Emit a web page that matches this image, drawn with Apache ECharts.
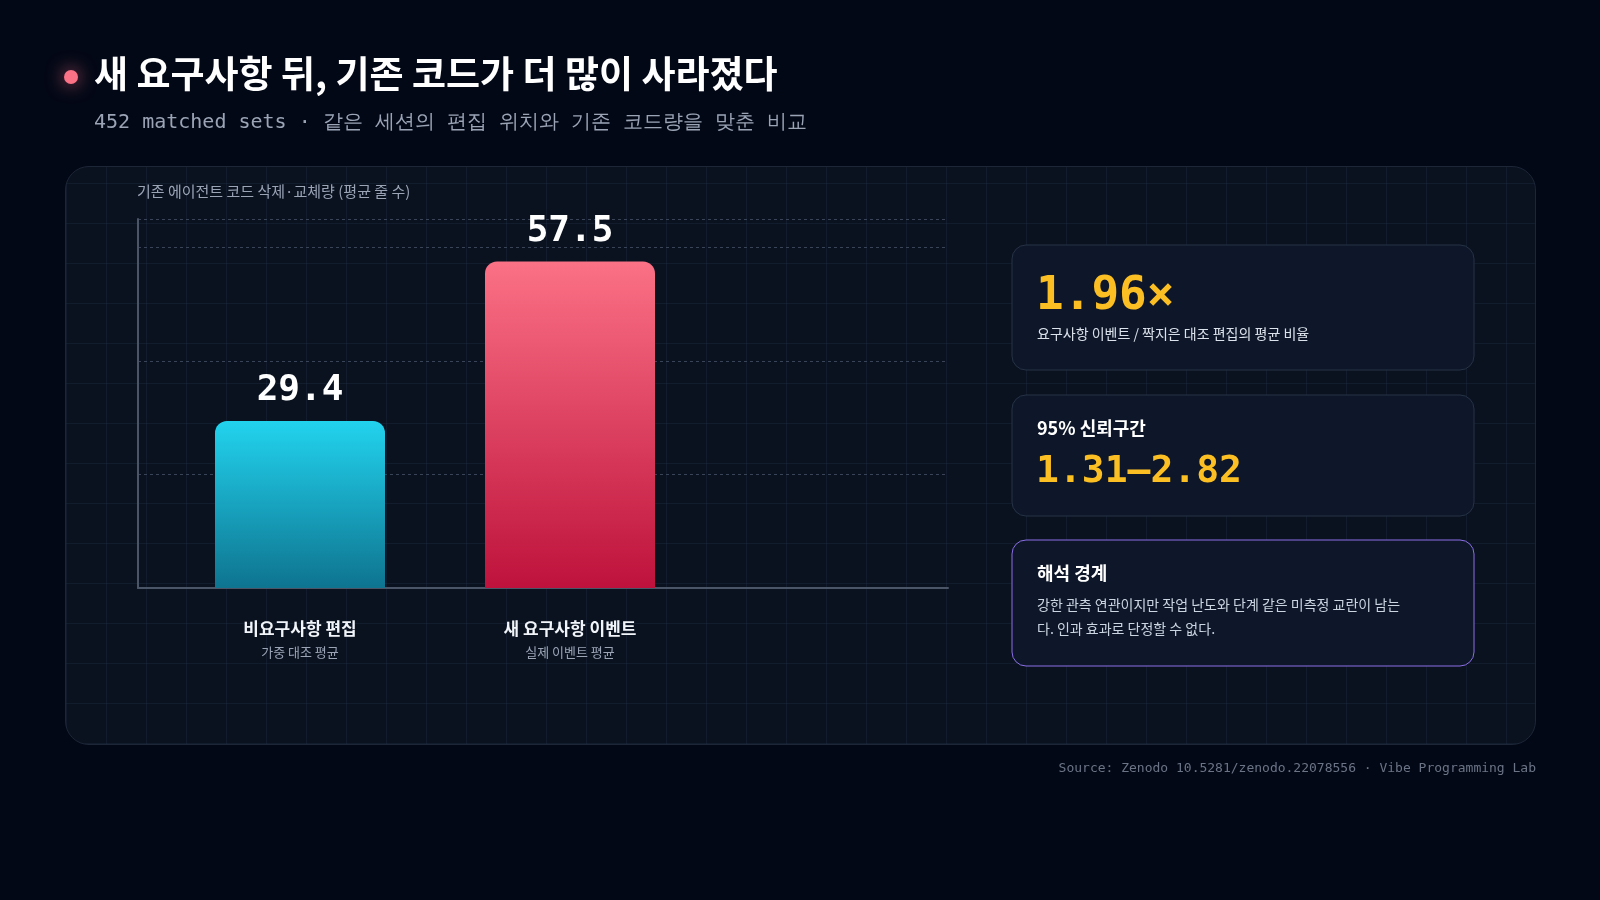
<!DOCTYPE html>
<html>
<head>
<meta charset="utf-8">
<title>새 요구사항 뒤, 기존 코드가 더 많이 사라졌다</title>
<script src="https://cdn.jsdelivr.net/npm/echarts@6/dist/echarts.min.js"></script>
<style>
  html, body { margin: 0; padding: 0; background: #030816; }
  #panel {
    position: absolute; left: 65px; top: 166px; width: 1471px; height: 579px;
    border-radius: 24px; border: 1px solid #1c2636; box-sizing: border-box;
    background-color: #0a1220;
    background-image:
      linear-gradient(rgba(60,80,110,0.16) 1px, transparent 1px),
      linear-gradient(90deg, rgba(60,80,110,0.16) 1px, transparent 1px);
    background-size: 40px 40px;
    background-position: 0 16px;
  }
  #chart { position: absolute; left: 0; top: 0; width: 1600px; height: 900px; }
</style>
</head>
<body>
<div id="panel"></div>
<div id="chart"></div>
<script>
const categories = ['비요구사항 편집', '새 요구사항 이벤트'];
const subLabels = ['가중 대조 평균', '실제 이벤트 평균'];
const values = [29.4, 57.5];
const xPositions = [0.6, 1.6];
const ratio = '1.96×';
const ci = '1.31–2.82';

const KR = '"Noto Sans CJK KR", "Noto Sans", sans-serif';
const MONO = '"DejaVu Sans Mono", monospace';

const gradients = [
  new echarts.graphic.LinearGradient(0, 0, 0, 1, [
    { offset: 0, color: '#22d3ee' }, { offset: 1, color: '#0e7490' }]),
  new echarts.graphic.LinearGradient(0, 0, 0, 1, [
    { offset: 0, color: '#fb7185' }, { offset: 1, color: '#be123c' }])
];

const chart = echarts.init(document.getElementById('chart'));

function card(x, y, w, h, stroke) {
  return {
    type: 'rect', shape: { x: x, y: y, width: w, height: h, r: 14 },
    style: { fill: '#0e1729', stroke: stroke, lineWidth: 1 }
  };
}
function txt(x, y, text, font, color, align) {
  return {
    type: 'text', x: x, y: y,
    style: { text: text, font: font, fill: color, align: align || 'left', verticalAlign: 'middle' }
  };
}

const option = {
  backgroundColor: 'transparent',
  animation: false,
  grid: { left: 138, right: 652, top: 219, bottom: 312 },
  xAxis: {
    type: 'value', min: 0, max: 3,
    axisLine: { show: true, lineStyle: { color: '#4b5568', width: 2 } },
    axisTick: { show: false },
    splitLine: { show: false },
    axisLabel: {
      customValues: xPositions,
      margin: 28,
      formatter: function (v) {
        const i = xPositions.findIndex(p => Math.abs(p - v) < 1e-6);
        if (i < 0) return '';
        return '{a|' + categories[i] + '}\n{b|' + subLabels[i] + '}';
      },
      rich: {
        a: { fontFamily: KR, fontSize: 17, fontWeight: 'bold', color: '#f1f5f9', lineHeight: 26 },
        b: { fontFamily: KR, fontSize: 13, color: '#9aa4b5', lineHeight: 20 }
      }
    }
  },
  yAxis: {
    type: 'value', min: 0, max: 65, interval: 20,
    axisLine: { show: true, lineStyle: { color: '#4b5568', width: 2 } },
    axisTick: { show: false },
    axisLabel: { show: false },
    splitLine: { show: true, lineStyle: { color: '#3a4458', type: [3, 3], width: 1 } }
  },
  series: [{
    type: 'bar',
    barWidth: 170,
    data: values.map((v, i) => ({
      value: [xPositions[i], v],
      itemStyle: { color: gradients[i], borderRadius: [12, 12, 0, 0] }
    })),
    label: {
      show: true, position: 'top', distance: 12,
      formatter: p => p.value[1].toFixed(1),
      fontFamily: MONO, fontSize: 36, fontWeight: 'bold', color: '#ffffff'
    }
  }],
  graphic: [
    { type: 'circle', shape: { cx: 71, cy: 77, r: 7 },
      style: { fill: '#fb7185', shadowBlur: 18, shadowColor: 'rgba(251,113,133,0.8)' } },
    txt(94, 74, '새 요구사항 뒤, 기존 코드가 더 많이 사라졌다', 'bold 37px ' + KR, '#ffffff'),
    txt(94, 123, '452 matched sets · 같은 세션의 편집 위치와 기존 코드량을 맞춘 비교', '20px ' + MONO, '#9aa4b5'),
    txt(137, 191, '기존 에이전트 코드 삭제·교체량 (평균 줄 수)', '15px ' + KR, '#9aa4b5'),

    card(1012, 245, 462, 125, '#263246'),
    txt(1036, 297, ratio, 'bold 46px ' + MONO, '#fbbf24'),
    txt(1037, 334, '요구사항 이벤트 / 짝지은 대조 편집의 평균 비율', '14px ' + KR, '#dbe2ec'),

    card(1012, 395, 462, 121, '#263246'),
    txt(1037, 428, '95% 신뢰구간', 'bold 18px ' + KR, '#ffffff'),
    txt(1036, 472, ci, 'bold 38px ' + MONO, '#fbbf24'),

    card(1012, 540, 462, 126, '#8b6fe6'),
    txt(1037, 573, '해석 경계', 'bold 18px ' + KR, '#ffffff'),
    txt(1037, 605, '강한 관측 연관이지만 작업 난도와 단계 같은 미측정 교란이 남는', '14px ' + KR, '#cbd5e1'),
    txt(1037, 629, '다. 인과 효과로 단정할 수 없다.', '14px ' + KR, '#cbd5e1'),

    txt(1536, 769, 'Source: Zenodo 10.5281/zenodo.22078556 · Vibe Programming Lab', '13px ' + MONO, '#6b7485', 'right')
  ]
};

chart.setOption(option);
</script>
</body>
</html>
